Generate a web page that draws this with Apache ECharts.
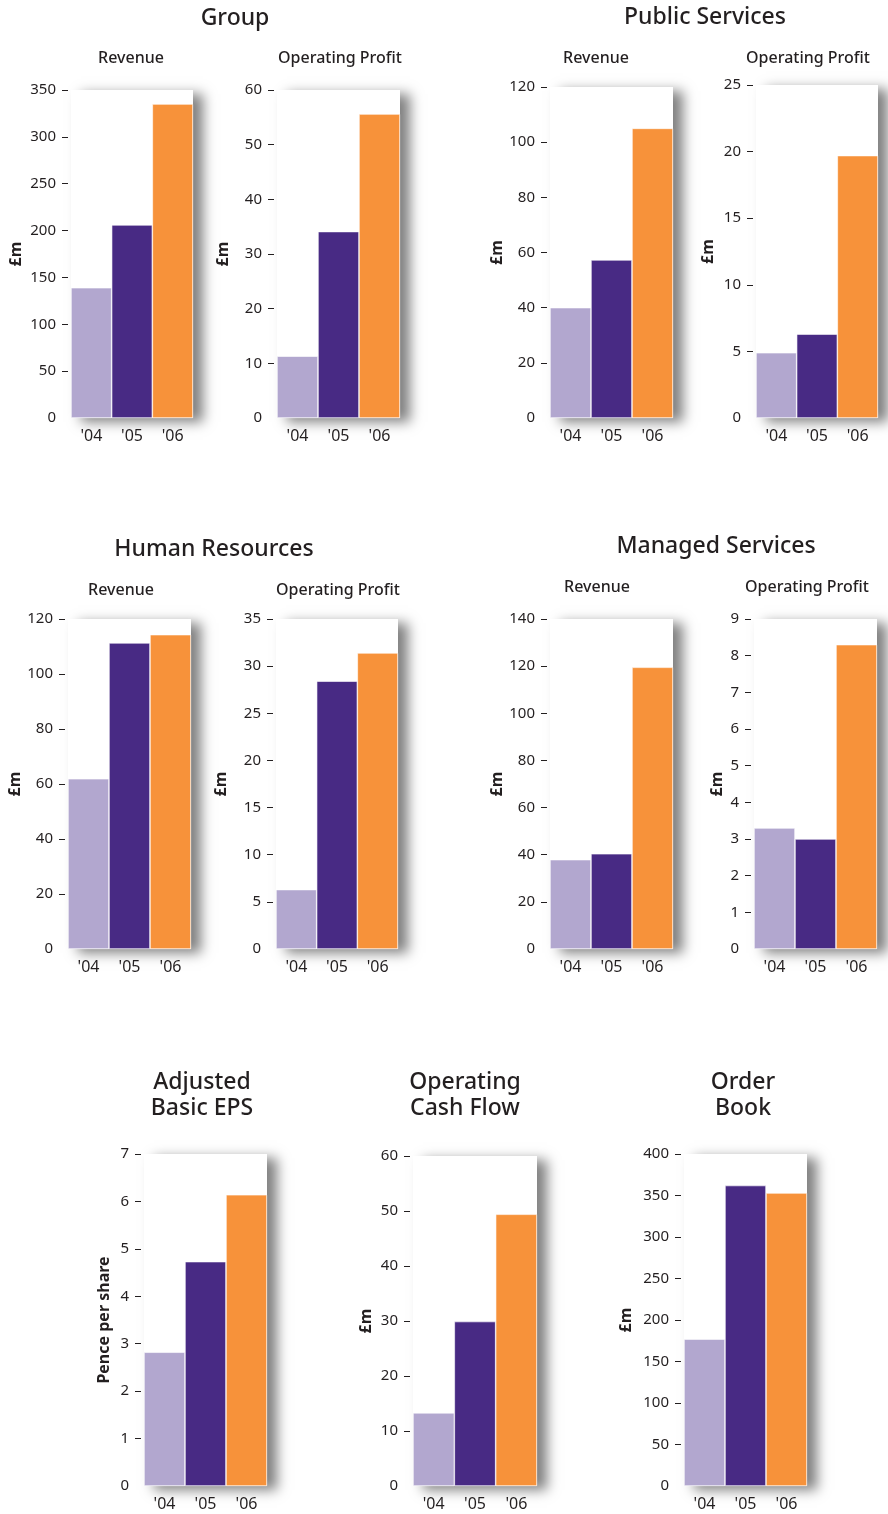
<!DOCTYPE html>
<html>
<head>
<meta charset="utf-8">
<script src="https://cdn.jsdelivr.net/npm/echarts@6/dist/echarts.min.js"></script>
<style>
  html, body { margin: 0; padding: 0; background: #fff; }
  #chart { width: 888px; height: 1514px; }
</style>
</head>
<body>
<div id="chart"></div>
<script>
const years = ["'04", "'05", "'06"];
const groupRevenue = [139, 206, 335];
const groupProfit = [11.3, 34.1, 55.6];
const publicRevenue = [40, 57.3, 105];
const publicProfit = [4.9, 6.3, 19.7];
const hrRevenue = [61.9, 111.3, 114.3];
const hrProfit = [6.3, 28.4, 31.4];
const msRevenue = [37.9, 40.4, 119.5];
const msProfit = [3.3, 3.0, 8.3];
const epsValues = [2.82, 4.73, 6.14];
const cashFlow = [13.3, 29.9, 49.4];
const orderBook = [177, 362, 353];

const barColors = ['#b2a7cf', '#482a84', '#f7923a'];
const textColor = '#231f20';
const font = 'Noto Sans';

// one entry per small chart: values, axis scale, plot box [left, top, width, height]
const panels = [
    {values: groupRevenue, max: 350, step: 50, unit: '£m', box: [71, 90, 122, 328], gap: 44},
    {values: groupProfit, max: 60, step: 10, unit: '£m', box: [277, 90, 123, 328], gap: 43},
    {values: publicRevenue, max: 120, step: 20, unit: '£m', box: [550, 87, 123, 331], gap: 37},
    {values: publicProfit, max: 25, step: 5, unit: '£m', box: [756, 85, 122, 333], gap: 37},
    {values: hrRevenue, max: 120, step: 20, unit: '£m', box: [68, 619, 123, 330], gap: 36},
    {values: hrProfit, max: 35, step: 5, unit: '£m', box: [276, 619, 122, 330], gap: 44},
    {values: msRevenue, max: 140, step: 20, unit: '£m', box: [550, 619, 123, 330], gap: 41},
    {values: msProfit, max: 9, step: 1, unit: '£m', box: [754, 619, 123, 330], gap: 26},
    {values: epsValues, max: 7, step: 1, unit: 'Pence per share', box: [144, 1154, 123, 332], gap: 29},
    {values: cashFlow, max: 60, step: 10, unit: '£m', box: [413, 1156, 124, 330], gap: 36},
    {values: orderBook, max: 400, step: 50, unit: '£m', box: [684, 1154, 123, 332], gap: 47}
];

const headings = [
    {text: 'Group', x: 235, y: 18, size: 23},
    {text: 'Public Services', x: 705, y: 17, size: 23},
    {text: 'Revenue', x: 131, y: 58, size: 16},
    {text: 'Operating Profit', x: 340, y: 58, size: 16},
    {text: 'Revenue', x: 596, y: 58, size: 16},
    {text: 'Operating Profit', x: 808, y: 58, size: 16},
    {text: 'Human Resources', x: 214, y: 549, size: 23},
    {text: 'Revenue', x: 121, y: 590, size: 16},
    {text: 'Operating Profit', x: 338, y: 590, size: 16},
    {text: 'Managed Services', x: 716, y: 546, size: 23},
    {text: 'Revenue', x: 597, y: 587, size: 16},
    {text: 'Operating Profit', x: 807, y: 587, size: 16},
    {text: 'Adjusted\nBasic EPS', x: 202, y: 1095, size: 23},
    {text: 'Operating\nCash Flow', x: 465, y: 1095, size: 23},
    {text: 'Order\nBook', x: 743, y: 1095, size: 23}
];

const chart = echarts.init(document.getElementById('chart'));

const grids = [], xAxes = [], yAxes = [], seriesList = [];
panels.forEach(function (p, i) {
    const tickValues = [];
    for (let v = p.step; v <= p.max; v += p.step) tickValues.push(v);
    grids.push({
        left: p.box[0], top: p.box[1], width: p.box[2], height: p.box[3],
        show: true,
        backgroundColor: '#fff',
        borderWidth: 0,
        shadowColor: 'rgba(0,0,0,0.5)',
        shadowBlur: 12,
        shadowOffsetX: 10,
        shadowOffsetY: 4
    });
    xAxes.push({
        type: 'category',
        gridIndex: i,
        data: years,
        axisLine: {show: false},
        axisTick: {show: false},
        axisLabel: {fontSize: 16, color: textColor, margin: 10, fontFamily: font}
    });
    yAxes.push({
        type: 'value',
        gridIndex: i,
        min: 0,
        max: p.max,
        interval: p.step,
        offset: 3,
        splitLine: {show: false},
        axisLine: {show: false},
        axisTick: {show: true, length: 6, customValues: tickValues, lineStyle: {color: textColor}},
        axisLabel: {fontSize: 15, color: textColor, margin: 12, fontFamily: font},
        name: p.unit,
        nameLocation: 'middle',
        nameRotate: 90,
        nameGap: p.gap,
        nameTextStyle: {fontSize: 16, fontWeight: 'bold', color: textColor, fontFamily: font}
    });
    seriesList.push({
        type: 'bar',
        xAxisIndex: i,
        yAxisIndex: i,
        barWidth: '100%',
        barCategoryGap: 0,
        data: p.values.map(function (v, j) {
            return {value: v, itemStyle: {color: barColors[j], borderColor: '#fff', borderWidth: 0.6}};
        })
    });
});

chart.setOption({
    animation: false,
    grid: grids,
    xAxis: xAxes,
    yAxis: yAxes,
    series: seriesList,
    graphic: headings.map(function (h) {
        return {
            type: 'text',
            x: h.x,
            y: h.y,
            style: {
                text: h.text,
                fill: textColor,
                font: '500 ' + h.size + 'px "' + font + '"',
                lineHeight: 26,
                align: 'center',
                verticalAlign: 'middle'
            }
        };
    })
});
</script>
</body>
</html>
